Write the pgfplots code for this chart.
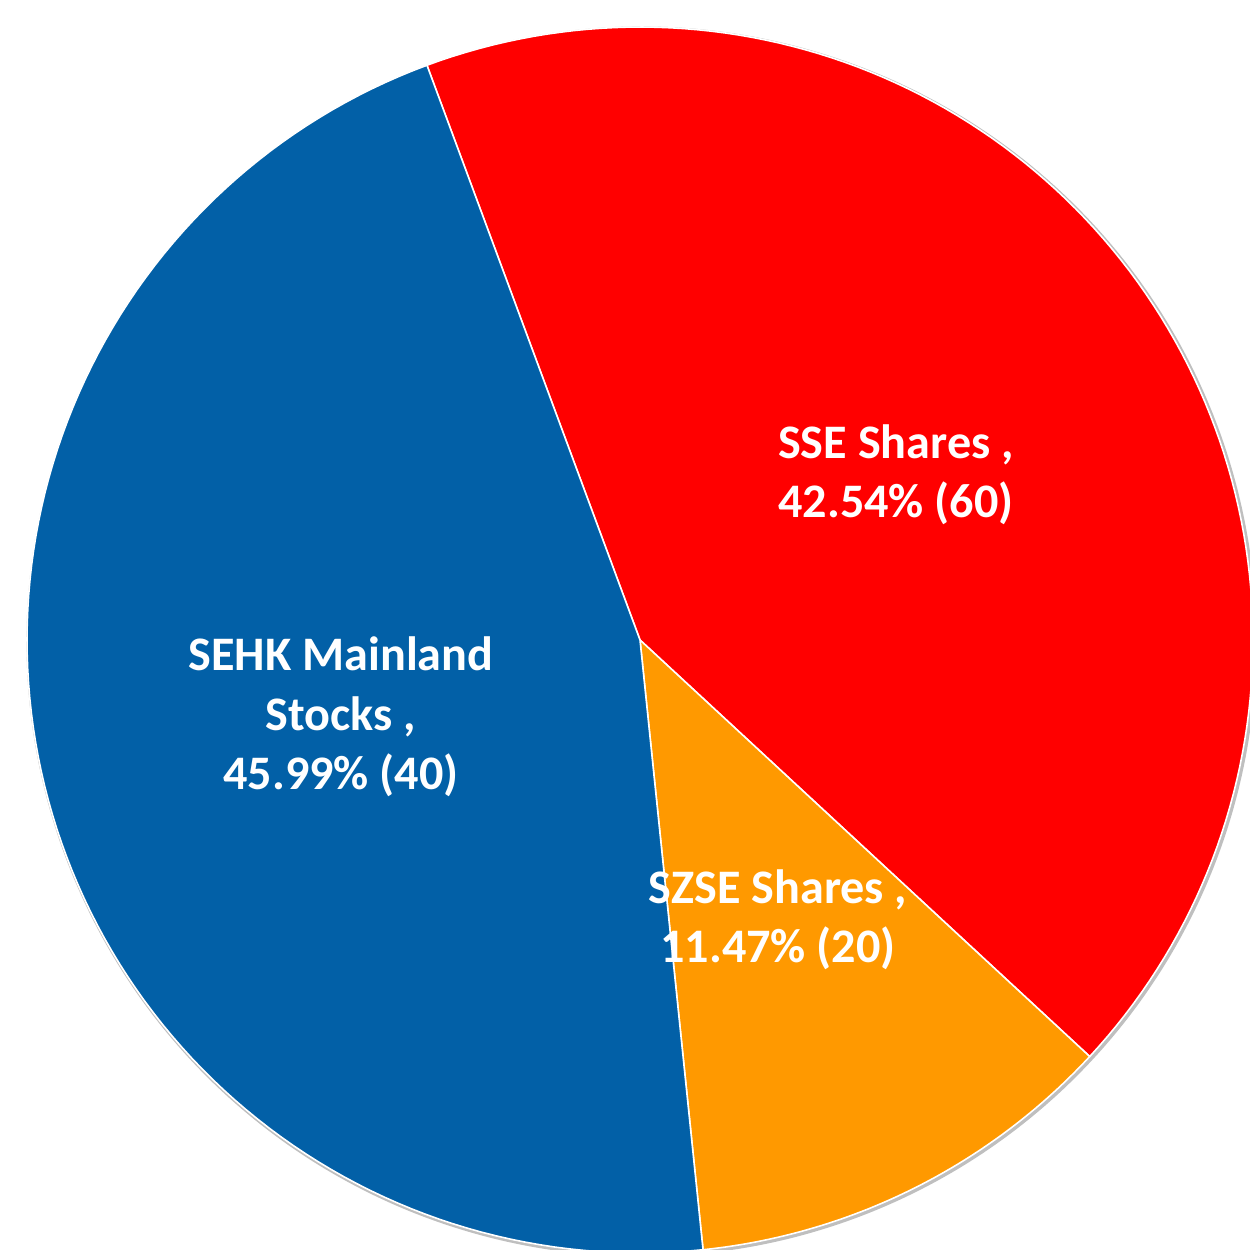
\documentclass[border=0pt]{standalone}
\usepackage{pgfplots}
\pgfplotsset{compat=1.18}
\usepackage{fontspec}
\setmainfont{Carlito}
\definecolor{cBlue}{RGB}{2,96,167}
\definecolor{cRed}{RGB}{255,0,0}
\definecolor{cOrange}{RGB}{255,153,0}
% shares (percent) of the three categories
\def\pSSE{42.54}
\def\pSZSE{11.47}
\def\pSEHK{45.99}
\def\startA{110.34}
\def\cx{640}
\def\cy{640}
\def\R{613}
\begin{document}
\begin{tikzpicture}
\pgfmathsetmacro{\aA}{\startA}
\pgfmathsetmacro{\aB}{\aA-3.6*\pSSE}
\pgfmathsetmacro{\aC}{\aB-3.6*\pSZSE}
\pgfmathsetmacro{\aD}{\aC-3.6*\pSEHK}
\begin{axis}[
  width=12.5cm, height=12.5cm, scale only axis,
  xmin=0, xmax=1250, ymin=0, ymax=1250, y dir=reverse,
  hide axis, clip=true,
]
% faint shadow ring
\addplot[draw=black!25, line width=1.2pt, domain=0:360, samples=200, smooth]
  ({\cx+1.5+\R*cos(x)},{\cy+1.5-\R*sin(x)});
\addplot[fill=cRed, draw=white, line width=0.45pt, domain=\aB:\aA, samples=120]
  ({\cx+\R*cos(x)},{\cy-\R*sin(x)}) -- (\cx,\cy) -- cycle;
\addplot[fill=cOrange, draw=white, line width=0.45pt, domain=\aC:\aB, samples=60]
  ({\cx+\R*cos(x)},{\cy-\R*sin(x)}) -- (\cx,\cy) -- cycle;
\addplot[fill=cBlue, draw=white, line width=0.45pt, domain=\aD:\aC, samples=120]
  ({\cx+\R*cos(x)},{\cy-\R*sin(x)}) -- (\cx,\cy) -- cycle;
\node[text=white, font=\bfseries\fontsize{13.7}{16.9}\selectfont, align=center] at (896,475) {SSE Shares ,\\42.54\% (60)};
\node[text=white, font=\bfseries\fontsize{13.7}{16.9}\selectfont, align=center] at (341,717) {SEHK Mainland\\Stocks ,\\45.99\% (40)};
\node[text=white, font=\bfseries\fontsize{13.7}{16.9}\selectfont, align=center] at (778,920) {SZSE Shares ,\\11.47\% (20)};
\end{axis}
\pgfresetboundingbox
\useasboundingbox (0,0) rectangle (12.5cm,12.5cm);
\end{tikzpicture}
\end{document}
